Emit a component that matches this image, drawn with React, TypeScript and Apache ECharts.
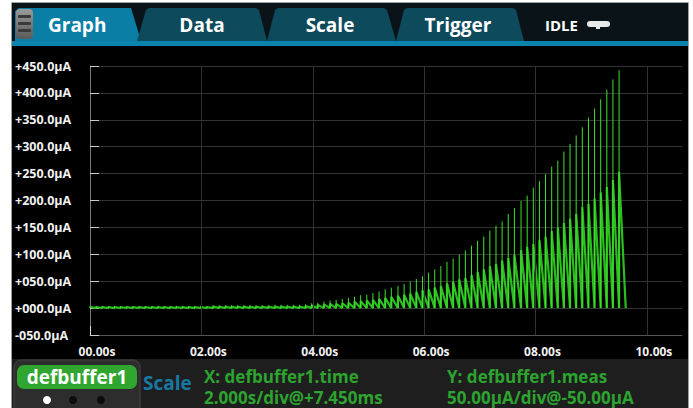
import React, { useEffect, useRef } from 'react';
import * as echarts from 'echarts';

// ---- data ----
const pulseTimes = [
  0.00, 0.11, 0.22, 0.33, 0.44, 0.55, 0.66, 0.77, 0.88, 0.99,
  1.11, 1.22, 1.33, 1.44, 1.55, 1.66, 1.77, 1.88, 1.99, 2.10,
  2.21, 2.32, 2.43, 2.54, 2.65, 2.76, 2.87, 2.98, 3.09, 3.20,
  3.32, 3.43, 3.54, 3.65, 3.76, 3.87, 3.98, 4.09, 4.20, 4.31,
  4.42, 4.53, 4.64, 4.75, 4.86, 4.97, 5.08, 5.19, 5.30, 5.41,
  5.53, 5.64, 5.75, 5.86, 5.97, 6.08, 6.19, 6.30, 6.41, 6.52,
  6.63, 6.74, 6.85, 6.96, 7.07, 7.18, 7.29, 7.40, 7.51, 7.62,
  7.74, 7.85, 7.96, 8.07, 8.18, 8.29, 8.40, 8.51, 8.62, 8.73,
  8.84, 8.95, 9.06, 9.17, 9.28, 9.39, 9.50,
];
// peak of each pulse (µA)
const peakValues = [
  4, 4, 4, 4, 4, 4, 4, 4, 4, 4,
  4, 4, 4, 4, 4, 4, 4, 4, 4, 4,
  5, 5, 5, 5, 5, 5, 5, 5, 5, 5,
  6, 6, 6, 6, 6, 7, 9, 10, 12, 14,
  15, 17, 19, 21, 24, 25, 28, 31, 35, 38,
  41, 45, 49, 54, 59, 66, 72, 78, 86, 92,
  99, 107, 116, 125, 133, 144, 153, 161, 175, 186,
  199, 209, 224, 236, 249, 263, 274, 291, 305, 321,
  336, 354, 371, 388, 406, 425, 442,
];
// level from which each pulse decays back to zero (µA)
const decayStartValues = [
  2, 2, 2, 2, 2, 2, 2, 2, 2, 2,
  2, 2, 2, 2, 2, 2, 2, 2, 2, 2,
  3, 3, 3, 3, 3, 3, 3, 3, 3, 3,
  3, 3, 3, 3, 3, 4, 5, 6, 7, 8,
  8, 9, 10, 12, 13, 14, 15, 17, 19, 21,
  23, 25, 27, 30, 33, 35, 38, 41, 46, 49,
  53, 56, 62, 67, 72, 78, 82, 88, 93, 99,
  108, 114, 119, 127, 133, 143, 149, 158, 166, 175,
  188, 194, 204, 215, 225, 238, 253,
];
const lastDecayEnd = 9.62;
const xTickValues = [0, 2, 4, 6, 8, 10];
const xGridValues = [2, 4, 6, 8, 10];
const yMin = -50;
const yMax = 450;
const yStep = 50;
const xMax = 10.63;
const tabNames = ['Graph', 'Data', 'Scale', 'Trigger'];
const statusText = 'IDLE';
const bufferName = 'defbuffer1';
const scaleText = 'Scale';
const xInfo = ['X: defbuffer1.time', '2.000s/div@+7.450ms'];
const yInfo = ['Y: defbuffer1.meas', '50.00\u00b5A/div@-50.00\u00b5A'];

const FONT = '"Open Sans", "Noto Sans", sans-serif';

function fmtY(v: number) {
  const a = Math.abs(v);
  return (v < 0 ? '-' : '+') + String(a).padStart(3, '0') + '.0\u00b5A';
}
function fmtX(v: number) {
  return v.toFixed(2).padStart(5, '0') + 's';
}

export default function App() {
  const ref = useRef<HTMLDivElement>(null);
  useEffect(() => {
    if (!ref.current) return;
    const chart = echarts.init(ref.current, undefined, { renderer: 'svg' });

    const spikeData: any[] = [];
    const decayData: any[] = [];
    pulseTimes.forEach((t, i) => {
      spikeData.push([t, 0], [t, peakValues[i]], [t, null]);
      const end = i < pulseTimes.length - 1 ? pulseTimes[i + 1] : lastDecayEnd;
      decayData.push([t, decayStartValues[i]], [end, 0]);
    });

    const tabPolys = [
      [[15, 41], [15, 11], [19, 8], [131, 8], [141, 41]],
      [[137, 41], [146, 10], [149, 8], [256, 8], [259, 10], [267, 41]],
      [[267, 41], [275, 10], [278, 8], [384, 8], [387, 10], [396, 41]],
      [[396, 41], [404, 10], [407, 8], [513, 8], [516, 10], [524, 41]],
    ];
    const tabCenters = [79, 202, 330, 458];

    const g: any[] = [];
    // top bar
    g.push({ type: 'rect', z: 50, shape: { x: 12, y: 3, width: 676, height: 38 }, style: { fill: '#0a1418' } });
    g.push({ type: 'rect', z: 50, shape: { x: 12, y: 41, width: 676, height: 5 }, style: { fill: '#0b84ad' } });
    tabPolys.forEach((p, i) => {
      g.push({ type: 'polygon', z: 51, shape: { points: p }, style: { fill: i === 0 ? '#0b7ea6' : '#0d4a5c' } });
    });
    // hamburger
    g.push({
      type: 'rect', z: 52, shape: { x: 16, y: 9, width: 17, height: 30, r: 4 },
      style: { fill: new echarts.graphic.LinearGradient(0, 0, 0, 1, [{ offset: 0, color: '#9a9a9a' }, { offset: 1, color: '#5a5a5a' }]) },
    });
    [15, 22, 29].forEach((y) => {
      g.push({ type: 'rect', z: 53, shape: { x: 18, y, width: 13, height: 3, r: 1 }, style: { fill: '#3a3a3a' } });
    });
    tabNames.forEach((name, i) => {
      g.push({
        type: 'text', z: 54,
        style: {
          text: name, x: i === 0 ? 48 : tabCenters[i], y: 25,
          align: i === 0 ? 'left' : 'center', verticalAlign: 'middle',
          fill: '#ffffff', font: `bold 19px ${FONT}`,
        },
      });
    });
    g.push({ type: 'text', z: 54, style: { text: statusText, x: 545, y: 25, verticalAlign: 'middle', fill: '#ffffff', font: `bold 15px ${FONT}` } });
    g.push({ type: 'rect', z: 54, shape: { x: 587, y: 21, width: 23, height: 6, r: 3 }, style: { fill: '#e8e8e8' } });
    g.push({ type: 'rect', z: 54, shape: { x: 596, y: 26, width: 4, height: 3 }, style: { fill: '#e8e8e8' } });

    // bottom panel
    g.push({ type: 'rect', z: 50, shape: { x: 12, y: 359, width: 676, height: 49 }, style: { fill: '#1e1e1e' } });
    g.push({
      type: 'rect', z: 51, shape: { x: 14, y: 360, width: 126, height: 50, r: [7, 7, 0, 0] },
      style: { fill: '#2d2d2d', stroke: '#444', lineWidth: 1 },
    });
    g.push({ type: 'rect', z: 52, shape: { x: 17, y: 365, width: 120, height: 24, r: 7 }, style: { fill: '#30a530' } });
    g.push({
      type: 'text', z: 53,
      style: { text: bufferName, x: 77, y: 377, align: 'center', verticalAlign: 'middle', fill: '#ffffff', font: `bold 19px ${FONT}` },
    });
    [[47, '#ffffff'], [73, '#0c0c0c'], [101, '#0c0c0c']].forEach(([cx, c]) => {
      g.push({ type: 'circle', z: 53, shape: { cx, cy: 400, r: 4 }, style: { fill: c } });
    });
    g.push({
      type: 'text', z: 53,
      style: { text: scaleText, x: 143, y: 383, verticalAlign: 'middle', fill: '#1779a2', font: `bold 19px ${FONT}` },
    });
    [[204, xInfo], [447, yInfo]].forEach(([x, lines]: any) => {
      lines.forEach((line: string, k: number) => {
        g.push({
          type: 'text', z: 53,
          style: { text: line, x, y: k === 0 ? 376 : 397, verticalAlign: 'middle', fill: '#2ca42f', font: `bold 17px ${FONT}` },
        });
      });
    });

    // white frame around the screen
    g.push({ type: 'rect', z: 100, shape: { x: 0, y: 0, width: 693, height: 3 }, style: { fill: '#ffffff' } });
    g.push({ type: 'rect', z: 100, shape: { x: 0, y: 0, width: 12, height: 408 }, style: { fill: '#ffffff' } });
    g.push({ type: 'rect', z: 100, shape: { x: 688, y: 0, width: 5, height: 408 }, style: { fill: '#ffffff' } });
    g.push({ type: 'polyline', z: 101, shape: { points: [[11.5, 408], [11.5, 2.5], [688.5, 2.5], [688.5, 408]] }, style: { stroke: '#a0a0a0', lineWidth: 1, fill: 'none' } });

    chart.setOption({
      animation: false,
      backgroundColor: '#000000',
      grid: { left: 90, right: 11, top: 66, bottom: 73 },
      xAxis: {
        type: 'value', min: 0, max: xMax, interval: 2,
        axisLine: { show: true, onZero: false, lineStyle: { color: '#555', width: 1 } },
        axisTick: { show: true, inside: true, length: 9, customValues: xTickValues, lineStyle: { color: '#dddddd' } },
        axisLabel: {
          customValues: xTickValues, formatter: (v: number) => fmtX(v),
          color: '#f2f2f2', fontWeight: 'bold', fontSize: 12, fontFamily: FONT, margin: 10, padding: [0, 0, 0, 14],
        },
        splitLine: { show: false },
      },
      yAxis: {
        type: 'value', min: yMin, max: yMax, interval: yStep,
        axisLine: { show: true, onZero: false, lineStyle: { color: '#777', width: 1 } },
        axisTick: { show: true, inside: true, length: 9, lineStyle: { color: '#cccccc' } },
        axisLabel: {
          formatter: (v: number) => fmtY(v), align: 'left', margin: 75,
          color: '#f2f2f2', fontWeight: 'bold', fontSize: 12.5, fontFamily: FONT,
        },
        splitLine: { show: true, lineStyle: { color: '#333333', width: 1 } },
      },
      series: [
        {
          name: 'grid', type: 'line', data: [], z: 1, silent: true, symbol: 'none',
          markLine: {
            silent: true, symbol: ['none', 'none'], label: { show: false },
            lineStyle: { color: '#333333', width: 1, type: 'solid' },
            data: xGridValues.map((v) => ({ xAxis: v })),
          },
        },
        {
          name: 'decay', type: 'line', data: decayData, showSymbol: false, symbol: 'none', silent: true,
          lineStyle: { color: '#2cbd21', width: 2.2 }, z: 3,
        },
        {
          name: 'spike', type: 'line', data: spikeData, showSymbol: false, symbol: 'none', silent: true,
          connectNulls: false, lineStyle: { color: '#3fe22c', width: 1 }, z: 4,
        },
      ],
      graphic: g,
    });
    return () => chart.dispose();
  }, []);
  return <div ref={ref} style={{ position: 'absolute', left: 0, top: 0, width: 693, height: 408 }} />;
}
